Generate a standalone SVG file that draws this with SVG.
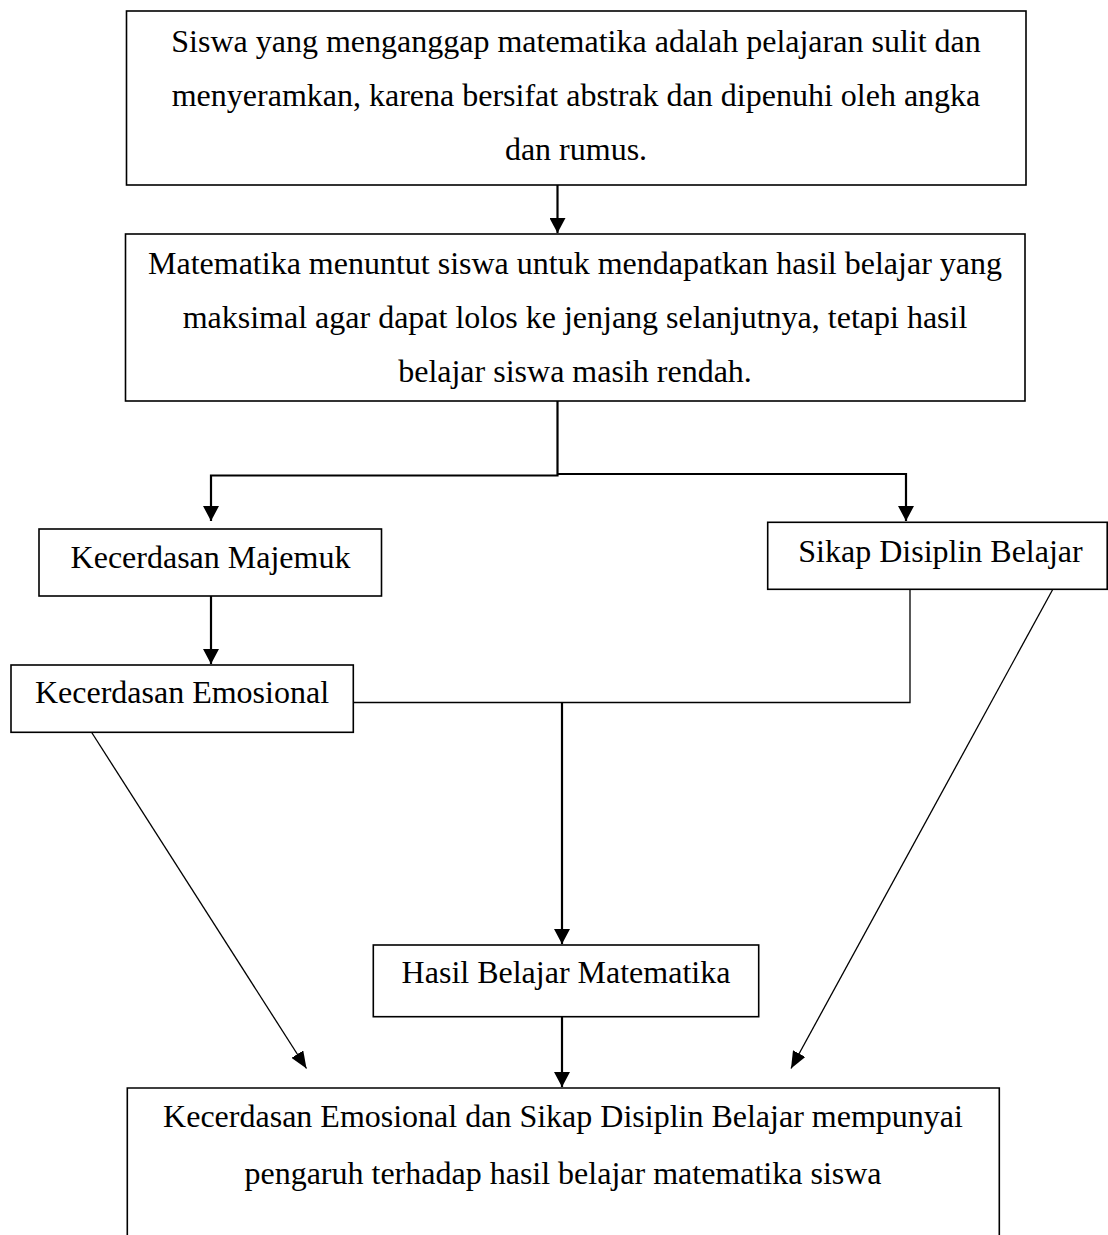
<svg xmlns="http://www.w3.org/2000/svg" width="1108" height="1235" viewBox="0 0 1108 1235">
<defs>
<style>
.box{fill:#fff;stroke:#000;stroke-width:1.6}
.t{font-family:"Liberation Serif","Times New Roman",serif;font-size:32px;fill:#000;text-anchor:middle}
.thick{fill:none;stroke:#000;stroke-width:2.2}
.thin{fill:none;stroke:#000;stroke-width:1.3}
</style>
<marker id="ah" markerUnits="userSpaceOnUse" markerWidth="16" markerHeight="16" refX="15" refY="8" orient="auto" viewBox="0 0 16 16">
<path d="M0,0 L15,8 L0,16 z" fill="#000"/>
</marker>
<marker id="ah2" markerUnits="userSpaceOnUse" markerWidth="18" markerHeight="14" refX="17" refY="7" orient="auto" viewBox="0 0 18 14">
<path d="M0,0 L17,7 L0,14 z" fill="#000"/>
</marker>
</defs>
<rect width="1108" height="1235" fill="#fff"/>
<g id="connectors">
<line class="thick" x1="557.5" y1="185" x2="557.5" y2="233" marker-end="url(#ah)"/>
<polyline class="thick" points="557.5,401 557.5,475.5 211,475.5 211,521" marker-end="url(#ah)"/>
<polyline class="thick" points="557.5,474 906,474 906,521" marker-end="url(#ah)"/>
<line class="thick" x1="211" y1="596" x2="211" y2="664" marker-end="url(#ah)"/>
<polyline class="thin" points="353,702.5 910,702.5 910,589"/>
<line class="thick" x1="562" y1="702.5" x2="562" y2="944" marker-end="url(#ah)"/>
<line class="thick" x1="562" y1="1017" x2="562" y2="1087" marker-end="url(#ah)"/>
<line class="thin" x1="91.7" y1="732.5" x2="306.5" y2="1068.5" marker-end="url(#ah2)"/>
<line class="thin" x1="1052.7" y1="589.5" x2="791" y2="1068.5" marker-end="url(#ah2)"/>
</g>
<g id="node1">
<rect class="box" x="126.5" y="11" width="899.5" height="174"/>
<text class="t" x="576" y="52">Siswa yang menganggap matematika adalah pelajaran sulit dan</text>
<text class="t" x="576" y="106">menyeramkan, karena bersifat abstrak dan dipenuhi oleh angka</text>
<text class="t" x="576" y="160">dan rumus.</text>
</g>
<g id="node2">
<rect class="box" x="125.5" y="234" width="899.5" height="167"/>
<text class="t" x="575" y="273.5">Matematika menuntut siswa untuk mendapatkan hasil belajar yang</text>
<text class="t" x="575" y="328">maksimal agar dapat lolos ke jenjang selanjutnya, tetapi hasil</text>
<text class="t" x="575" y="382">belajar siswa masih rendah.</text>
</g>
<g id="node3">
<rect class="box" x="39" y="529" width="342.5" height="67"/>
<text class="t" x="210.5" y="568.3">Kecerdasan Majemuk</text>
</g>
<g id="node4">
<rect class="box" x="767.7" y="522.3" width="339.5" height="67"/>
<text class="t" x="940.5" y="561.7">Sikap Disiplin Belajar</text>
</g>
<g id="node5">
<rect class="box" x="11" y="665" width="342.3" height="67.3"/>
<text class="t" x="182" y="703.3">Kecerdasan Emosional</text>
</g>
<g id="node6">
<rect class="box" x="373.3" y="945" width="385.4" height="71.7"/>
<text class="t" x="566" y="983.3">Hasil Belajar Matematika</text>
</g>
<g id="node7">
<path class="box" d="M127.3,1240 L127.3,1088 L999.3,1088 L999.3,1240"/>
<text class="t" x="563" y="1126.7">Kecerdasan Emosional dan Sikap Disiplin Belajar mempunyai</text>
<text class="t" x="563" y="1184">pengaruh terhadap hasil belajar matematika siswa</text>
</g>
</svg>
